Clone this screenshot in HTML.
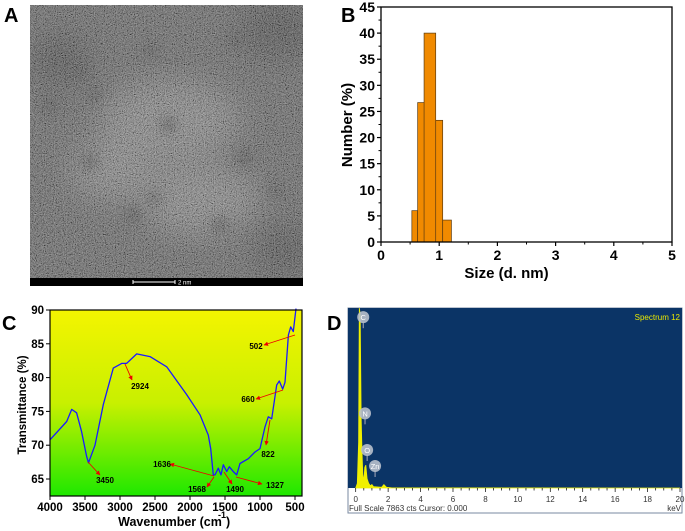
<!DOCTYPE html>
<html><head><meta charset="utf-8"><style>
html,body{margin:0;padding:0;background:#fff;width:685px;height:531px;overflow:hidden}
svg{display:block;font-family:"Liberation Sans",Arial,sans-serif}
</style></head><body>
<svg id="fig" width="685" height="531" viewBox="0 0 685 531" xmlns="http://www.w3.org/2000/svg">
<defs>
<filter id="tem" x="0" y="0" width="100%" height="100%">
<feTurbulence type="fractalNoise" baseFrequency="0.9" numOctaves="2" seed="3" result="n"/>
<feColorMatrix in="n" type="matrix" values="0.33 0.33 0.33 0 0 0.33 0.33 0.33 0 0 0.33 0.33 0.33 0 0 0 0 0 0 1" result="g"/>
<feComponentTransfer in="g"><feFuncR type="linear" slope="2.2" intercept="-0.75"/><feFuncG type="linear" slope="2.2" intercept="-0.75"/><feFuncB type="linear" slope="2.2" intercept="-0.75"/></feComponentTransfer>
</filter>
<filter id="blur6"><feGaussianBlur stdDeviation="6"/></filter>
<filter id="blur15"><feGaussianBlur stdDeviation="15"/></filter>
<clipPath id="temclip"><rect x="30" y="5" width="273" height="273"/></clipPath>
<linearGradient id="yg" x1="0" y1="0" x2="0" y2="1"><stop offset="0" stop-color="#f4f400"/><stop offset="0.5" stop-color="#c8f000"/><stop offset="1" stop-color="#1ee800"/></linearGradient>
<marker id="ah" viewBox="0 0 10 10" refX="9" refY="5" markerWidth="5" markerHeight="5" orient="auto"><path d="M0,0L10,5L0,10z" fill="#e00"/></marker>
</defs>

<!-- Panel A -->
<text x="4" y="22" font-size="20" font-weight="bold">A</text>
<g>
<g clip-path="url(#temclip)">
<rect x="30" y="5" width="273" height="273" fill="#5e5e5e"/>
<g filter="url(#blur15)" fill="#888">
<ellipse cx="170" cy="120" rx="70" ry="40"/><ellipse cx="200" cy="200" rx="60" ry="35"/><ellipse cx="110" cy="170" rx="40" ry="30"/>
</g>
<g filter="url(#blur15)" fill="#404040">
<ellipse cx="280" cy="30" rx="40" ry="30"/><ellipse cx="60" cy="60" rx="30" ry="25"/><ellipse cx="285" cy="250" rx="30" ry="25"/>
</g>
<g filter="url(#blur6)" fill="#383838">
<circle cx="50" cy="105" r="7"/><circle cx="95" cy="95" r="6"/><circle cx="168" cy="125" r="7"/><circle cx="90" cy="162" r="7"/><circle cx="244" cy="158" r="7"/><circle cx="155" cy="198" r="6"/><circle cx="133" cy="215" r="7"/><circle cx="220" cy="225" r="7"/><circle cx="150" cy="50" r="6"/><circle cx="235" cy="40" r="6"/><circle cx="80" cy="72" r="6"/><circle cx="275" cy="190" r="6"/>
</g>
<rect x="30" y="5" width="273" height="273" filter="url(#tem)" opacity="0.5"/>
</g>
<rect x="30" y="278" width="273" height="8" fill="#000"/>
<line x1="133" y1="282" x2="175" y2="282" stroke="#fff" stroke-width="1"/>
<line x1="133" y1="280" x2="133" y2="284" stroke="#fff"/>
<line x1="175" y1="280" x2="175" y2="284" stroke="#fff"/>
<text x="178" y="284.5" font-size="6" fill="#fff">2 nm</text>
</g>

<!-- Panel B -->
<text x="341" y="22" font-size="20" font-weight="bold">B</text>
<g id="chartB"></g>

<!-- Panel C -->
<text x="2" y="330" font-size="20" font-weight="bold">C</text>
<g id="chartC"></g>

<!-- Panel D -->
<text x="327" y="330" font-size="20" font-weight="bold">D</text>
<g id="chartD"></g>
</svg>
<script>
// ---- Panel B data ----
const binLeft = [0.53, 0.63, 0.86, 0.74, 1.06];
const binRight = [0.63, 0.75, 1.06, 0.94, 1.21];
const binValues = [6, 26.7, 23.3, 40, 4.2];
const bXTicks = [0, 1, 2, 3, 4, 5];
const bYTicks = [0, 5, 10, 15, 20, 25, 30, 35, 40, 45];
// ---- Panel C data ----
const waveNumbers = [4000,3762,3690,3620,3548,3476,3450,3357,3238,3095,2976,2905,2762,2571,2333,2048,1857,1738,1705,1667,1643,1595,1557,1524,1476,1438,1381,1333,1286,1167,1071,1000,929,881,833,762,724,676,643,595,562,524,486];
const transmittance = [70.8,73.5,75.3,74.8,72.0,68.3,67.4,70,76,81.4,82.1,82.1,83.5,83.1,81.6,77.5,74.5,71.5,69.5,65.6,65.6,66.6,65.6,67.1,66.1,66.8,66.1,65.6,67.3,68.0,69.0,69.5,72.7,74.2,73.9,78.9,79.5,78.3,79.3,86.3,87.5,86.8,90.2];
const cXTicks = [4000,3500,3000,2500,2000,1500,1000,500];
const cYTicks = [65,70,75,80,85,90];
const peakLabels = ["2924","3450","502","660","822","1636","1568","1490","1327"];
// ---- Panel D data ----
const energyKeV = [0,0.1,0.18,0.22,0.28,0.34,0.39,0.44,0.5,0.56,0.62,0.7,0.8,0.9,1.0,1.1,1.6,1.74,1.9,2.2,20];
const counts = [0,200,2000,7863,7600,3000,1600,600,300,900,1000,400,200,100,150,60,30,150,30,10,0];
const dTicks = [0,2,4,6,8,10,12,14,16,18,20];
const elements = ["C","N","O","Zn"];
const elementKeV = [0.28,0.39,0.52,1.01];
const elementCounts = [7200,3000,1400,700];

const NS="http://www.w3.org/2000/svg";
function mk(parent,tag,attrs,text){const e=document.createElementNS(NS,tag);for(const k in attrs)e.setAttribute(k,attrs[k]);if(text!==undefined)e.textContent=text;parent.appendChild(e);return e;}

// ===== B =====
(function(){
const g=document.getElementById('chartB');
const x0=381,x1=672,y0=242,y1=7;
const xs=v=>x0+(v-0)/5*(x1-x0), ys=v=>y0-(v/45)*(y0-y1);
for(let i=0;i<binValues.length;i++){
 const r=mk(g,'rect',{x:xs(binLeft[i]),y:ys(binValues[i]),width:xs(binRight[i])-xs(binLeft[i]),height:ys(0)-ys(binValues[i]),fill:'#f08a00',stroke:'#5a3a10','stroke-width':0.7});
 
 
}
mk(g,'rect',{x:x0,y:y1,width:x1-x0,height:y0-y1,fill:'none',stroke:'#000','stroke-width':1.3});
bXTicks.forEach(t=>{mk(g,'line',{x1:xs(t),x2:xs(t),y1:y0,y2:y0+4,stroke:'#000','stroke-width':1.2});
 const tx=mk(g,'text',{x:xs(t),y:y0+18,'font-size':14,'font-weight':'bold','text-anchor':'middle'},t);
 
 if(t<5)mk(g,'line',{x1:xs(t+0.5),x2:xs(t+0.5),y1:y0,y2:y0+2.5,stroke:'#000'});});
bYTicks.forEach(t=>{mk(g,'line',{x1:x0-4,x2:x0,y1:ys(t),y2:ys(t),stroke:'#000','stroke-width':1.2});
 const tx=mk(g,'text',{x:x0-6,y:ys(t)+5,'font-size':14,'font-weight':'bold','text-anchor':'end'},t);
 
 if(t<45)mk(g,'line',{x1:x0-2.5,x2:x0,y1:ys(t+2.5),y2:ys(t+2.5),stroke:'#000'});});
const xl=mk(g,'text',{x:(x0+x1)/2-20,y:278,'font-size':15,'font-weight':'bold','text-anchor':'middle'},'Size (d. nm)');

const yl=mk(g,'text',{x:0,y:0,'font-size':15,'font-weight':'bold','text-anchor':'middle',transform:'translate(352,125) rotate(-90)'},'Number (%)');

})();

// ===== C =====
(function(){
const g=document.getElementById('chartC');
const x0=50,x1=302,yT=310,yB=496;
const xs=v=>50+(4000-v)/3500*245, ys=v=>310+(90-v)*(169/25);
mk(g,'rect',{x:x0,y:yT,width:x1-x0,height:yB-yT,fill:'url(#yg)'});
let d='';waveNumbers.forEach((w,i)=>{d+=(i?'L':'M')+xs(w).toFixed(1)+','+ys(transmittance[i]).toFixed(1);});
const p=mk(g,'path',{d:d,fill:'none',stroke:'#1a1aff','stroke-width':1.3,'stroke-linejoin':'round'});

mk(g,'rect',{x:x0,y:yT,width:x1-x0,height:yB-yT,fill:'none',stroke:'#000','stroke-width':1.2});
cXTicks.forEach(t=>{mk(g,'line',{x1:xs(t),x2:xs(t),y1:yB,y2:yB+4,stroke:'#000'});
 const tx=mk(g,'text',{x:xs(t),y:yB+15,'font-size':11.5,'font-weight':'bold','text-anchor':'middle'},t);
 });
cYTicks.forEach(t=>{mk(g,'line',{x1:x0-4,x2:x0,y1:ys(t),y2:ys(t),stroke:'#000'});
 const tx=mk(g,'text',{x:x0-6,y:ys(t)+4,'font-size':11.5,'font-weight':'bold','text-anchor':'end'},t);
 });
const ann=[[125,364,132,380,140,389],[88,462,100,475,105,483],[295,335,264,345,256,349],[283,390,256,399,248,402],[270,420,266,445,268,457],[214,476,170,464,162,467],[214,477,207,487,197,492],[224,472,232,484,235,492],[236,477,262,484,275,488]];
ann.forEach((a,i)=>{mk(g,'line',{x1:a[0],y1:a[1],x2:a[2],y2:a[3],stroke:'#e00','stroke-width':0.9,'marker-end':'url(#ah)'});
 const tx=mk(g,'text',{x:a[4],y:a[5],'font-size':8,'font-weight':'bold','text-anchor':'middle'},peakLabels[i]);
 });
const xl=mk(g,'text',{x:170,y:526,'font-size':12.5,'font-weight':'bold','text-anchor':'middle'},'Wavenumber (cm');

mk(g,'text',{x:218,y:518,'font-size':9,'font-weight':'bold'},'-1');
mk(g,'text',{x:226,y:526,'font-size':12.5,'font-weight':'bold'},')');
const yl=mk(g,'text',{x:0,y:0,'font-size':11.5,'font-weight':'bold','text-anchor':'middle',transform:'translate(26,405) rotate(-90)'},'Transmittance (%)');

})();

// ===== D =====
(function(){
const g=document.getElementById('chartD');
const x0=348,x1=682,yT=308,yB=488,yE=513;
const xs=v=>355.7+v/20*(680-355.7), ys=v=>yB-v/7863*(yB-yT);
mk(g,'rect',{x:x0,y:yT,width:x1-x0,height:yE-yT,fill:'#fff',stroke:'#7a8aa0','stroke-width':1});
mk(g,'rect',{x:x0,y:yT,width:x1-x0,height:yB-yT,fill:'#0b3466'});
let d='M'+xs(energyKeV[0])+','+yB;energyKeV.forEach((e,i)=>{d+='L'+xs(e).toFixed(1)+','+ys(counts[i]).toFixed(1);});d+='L'+xs(20)+','+yB+'Z';
const p=mk(g,'path',{d:d,fill:'#f0f000',stroke:'#f0f000','stroke-width':0.8});

elements.forEach((el,i)=>{const cx=xs(elementKeV[i])+3,cy=ys(elementCounts[i])-6;
 mk(g,'line',{x1:cx,x2:cx,y1:cy+5,y2:cy+11,stroke:'#aab'});
 mk(g,'circle',{cx:cx,cy:cy,r:6,fill:'#b8c0cc',opacity:0.9});
 const tx=mk(g,'text',{x:cx,y:cy+3,'font-size':7.5,fill:'#fff','text-anchor':'middle'},el);
 });
for(let k=0;k<=40;k++){mk(g,'line',{x1:xs(k*0.5),x2:xs(k*0.5),y1:yB,y2:yB+(k%4==0?4:2.5),stroke:'#000','stroke-width':0.7});}
dTicks.forEach(t=>{const tx=mk(g,'text',{x:xs(t),y:yB+14,'font-size':8,'text-anchor':'middle',fill:'#333'},t);
 });
mk(g,'text',{x:349,y:yE-2,'font-size':8,fill:'#333'},'Full Scale 7863 cts Cursor: 0.000');
mk(g,'text',{x:681,y:yE-2,'font-size':8,fill:'#333','text-anchor':'end'},'keV');
const st=mk(g,'text',{x:680,y:320,'font-size':8,fill:'#e8e800','text-anchor':'end'},'Spectrum 12');

})();
</script>
</body></html>
